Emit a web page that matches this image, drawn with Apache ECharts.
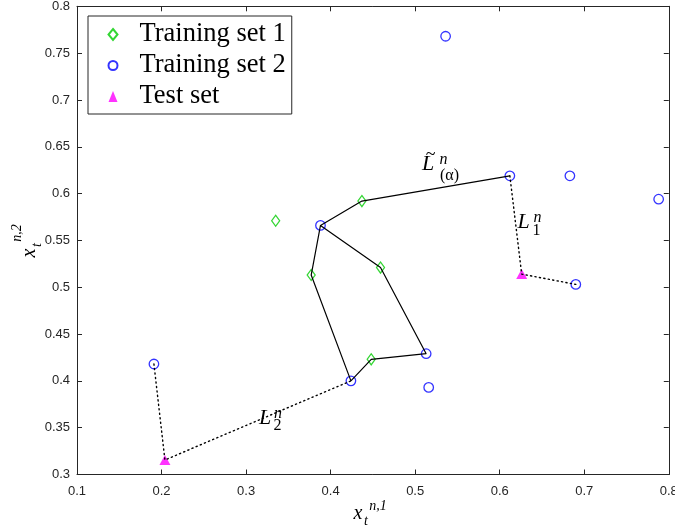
<!DOCTYPE html>
<html>
<head>
<meta charset="utf-8">
<script src="https://cdn.jsdelivr.net/npm/echarts@6/dist/echarts.min.js"></script>
<style>html,body{margin:0;padding:0;background:#fff;overflow:hidden}#c{width:675px;height:531px}</style>
</head>
<body>
<div id="c"></div>
<script>
// ---- data ----
var set1Points = [[0.335,0.571],[0.437,0.592],[0.377,0.513],[0.459,0.521],[0.448,0.423]];
var set2Points = [[0.536,0.768],[0.612,0.619],[0.683,0.619],[0.788,0.594],[0.690,0.503],
                  [0.388,0.566],[0.513,0.429],[0.424,0.400],[0.516,0.393],[0.191,0.418]];
var testPoints = [[0.626,0.514],[0.204,0.3155]];
var alphaPath = [[0.612,0.619],[0.437,0.592],[0.388,0.566],[0.377,0.513],[0.424,0.400],
                 [0.448,0.423],[0.513,0.429],[0.459,0.521],[0.388,0.566]];
var l1Path = [[0.612,0.619],[0.626,0.514],[0.690,0.503]];
var l2Path = [[0.191,0.418],[0.204,0.3155],[0.424,0.400]];
var seriesNames = ['Training set 1','Training set 2','Test set'];
var xMin = 0.1, xMax = 0.8, xStep = 0.1;
var yMin = 0.3, yMax = 0.8, yStep = 0.05;

// ---- styles ----
var AX = '#262626';
var SERIF = '"Liberation Serif", "DejaVu Serif", serif';
function mathLabel(cx, cy, rot, parts) {
  return {
    type: 'group', x: cx, y: cy, rotation: rot || 0,
    children: parts.map(function (p) {
      return {
        type: 'text', x: p[1], y: p[2],
        style: { text: p[0], font: (p[4] ? 'normal ' : 'italic ') + p[3] + 'px ' + SERIF,
                 fill: '#000', align: 'center', verticalAlign: 'middle' }
      };
    })
  };
}
function axisCommon(show) {
  return {
    axisLine: { show: true, onZero: false, lineStyle: { color: AX, width: 1 } },
    axisTick: { show: true, inside: true, length: 5, lineStyle: { color: AX } },
    axisLabel: { show: show, color: AX, fontSize: 13, fontFamily: '"Liberation Sans", Arial, sans-serif' },
    splitLine: { show: false }
  };
}
function mkX(pos, show) {
  var a = axisCommon(show);
  a.type = 'value'; a.min = xMin; a.max = xMax; a.interval = xStep; a.position = pos;
  a.axisLabel.margin = 10;
  return a;
}
function mkY(pos, show) {
  var a = axisCommon(show);
  a.type = 'value'; a.min = yMin; a.max = yMax; a.interval = yStep; a.position = pos;
  a.axisLabel.margin = 7;
  return a;
}
function lineSeries(data, dotted) {
  return {
    type: 'line', data: data, symbol: 'none', silent: true, animation: false,
    lineStyle: dotted ? { color: '#000', width: 1.4, type: [1.2, 3.3], cap: 'round' }
                      : { color: '#000', width: 1.2 }
  };
}

var chart = echarts.init(document.getElementById('c'), null, { renderer: 'canvas' });
chart.setOption({
  animation: false,
  backgroundColor: '#fff',
  grid: { left: 77, right: 6.2, top: 6.3, bottom: 56.5, containLabel: false, outerBoundsMode: 'none' },
  xAxis: [mkX('bottom', true), mkX('top', false)],
  yAxis: [mkY('left', true), mkY('right', false)],
  legend: {
    orient: 'vertical', left: 88, top: 16,
    padding: [5, 6, 4, 18], itemGap: 4, itemWidth: 9, itemHeight: 11,
    borderColor: AX, borderWidth: 1, backgroundColor: '#fff',
    textStyle: { fontFamily: SERIF, fontSize: 26.5, color: '#000', lineHeight: 25, padding: [0, 0, 0, 17] },
    data: seriesNames
  },
  series: [
    lineSeries(alphaPath, false),
    lineSeries(l1Path, true),
    lineSeries(l2Path, true),
    { name: seriesNames[0], type: 'scatter', data: set1Points, symbol: 'diamond', symbolSize: [8, 11],
      itemStyle: { color: 'none', borderColor: '#00cc00', borderWidth: 1.3 } },
    { name: seriesNames[1], type: 'scatter', data: set2Points, symbol: 'circle', symbolSize: 9.5,
      itemStyle: { color: 'none', borderColor: '#0000ff', borderWidth: 1.3 } },
    { name: seriesNames[2], type: 'scatter', data: testPoints, symbol: 'triangle', symbolSize: [11, 10],
      itemStyle: { color: '#ff00ff' } }
  ],
  graphic: [
    // x-axis name  x_t^{n,1}
    mathLabel(358, 514, 0, [['x', 0, 0, 20], ['n,1', 20, -8, 14], ['t', 8, 7, 14]]),
    // y-axis name  x_t^{n,2}
    mathLabel(30, 253, Math.PI / 2, [['x', 0, 0, 20], ['n,2', 20, -13, 14], ['t', 8, 7, 14]]),
    // L~^n_(alpha)
    mathLabel(428, 164.5, 0, [['L', 0, 0, 22], ['~', 2.5, -9.5, 18, true], ['n', 15.5, -5, 16], ['(α)', 21.5, 11, 16, true]]),
    // L_1^n
    mathLabel(523.5, 222.5, 0, [['L', 0, 0, 22], ['n', 14, -5, 16], ['1', 13, 8, 16, true]]),
    // L_2^n
    mathLabel(265, 418.5, 0, [['L', 0, 0, 22], ['n', 13, -5, 16], ['2', 12.5, 7, 16, true]])
  ]
});
</script>
</body>
</html>
